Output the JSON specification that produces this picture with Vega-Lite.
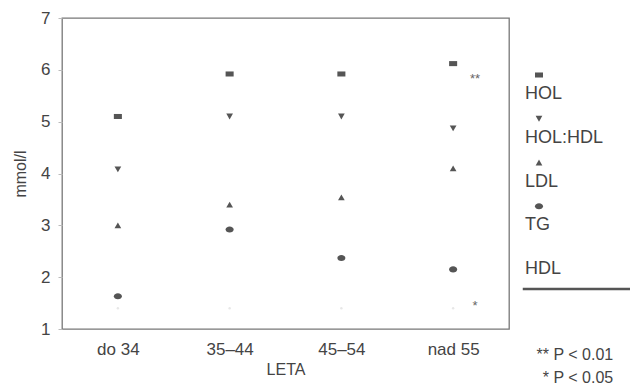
{
  "$schema": "https://vega.github.io/schema/vega-lite/v6.json",
  "padding": {"left": 11, "top": 8, "right": 0, "bottom": 0},
  "background": "white",
  "config": {
    "font": "Liberation Sans",
    "concat": {"spacing": 0},
    "axis": {"labelColor": "#444", "titleColor": "#444", "labelFontSize": 17, "titleFontSize": 16, "titleFontWeight": "normal", "grid": false}
  },
  "datasets": {
    "points": [
      {"age": "do 34", "series": "HOL", "value": 5.1},
      {"age": "do 34", "series": "HOL:HDL", "value": 4.08},
      {"age": "do 34", "series": "LDL", "value": 3.0},
      {"age": "do 34", "series": "TG", "value": 1.63},
      {"age": "do 34", "series": "HDL", "value": 1.4},
      {"age": "35–44", "series": "HOL", "value": 5.92},
      {"age": "35–44", "series": "HOL:HDL", "value": 5.1},
      {"age": "35–44", "series": "LDL", "value": 3.4},
      {"age": "35–44", "series": "TG", "value": 2.92},
      {"age": "35–44", "series": "HDL", "value": 1.4},
      {"age": "45–54", "series": "HOL", "value": 5.92},
      {"age": "45–54", "series": "HOL:HDL", "value": 5.1},
      {"age": "45–54", "series": "LDL", "value": 3.54},
      {"age": "45–54", "series": "TG", "value": 2.37},
      {"age": "45–54", "series": "HDL", "value": 1.4},
      {"age": "nad 55", "series": "HOL", "value": 6.12},
      {"age": "nad 55", "series": "HOL:HDL", "value": 4.87},
      {"age": "nad 55", "series": "LDL", "value": 4.1},
      {"age": "nad 55", "series": "TG", "value": 2.15},
      {"age": "nad 55", "series": "HDL", "value": 1.4}
    ],
    "notes": [
      {"age": "nad 55", "label": "**", "value": 5.83},
      {"age": "nad 55", "label": "*", "value": 1.44}
    ],
    "legend": [
      {"series": "HOL"},
      {"series": "HOL:HDL"},
      {"series": "LDL"},
      {"series": "TG"},
      {"series": "HDL"}
    ]
  },
  "hconcat": [
    {
      "width": 447,
      "height": 311,
      "view": {"stroke": "#777", "strokeWidth": 1.3},
      "encoding": {
        "x": {"field": "age", "type": "nominal", "sort": ["do 34", "35–44", "45–54", "nad 55"],
              "scale": {"type": "point", "padding": 0.5},
              "axis": {"title": "LETA", "labelAngle": 0, "ticks": false, "domain": false, "labelPadding": 12, "titlePadding": 4}},
        "y": {"field": "value", "type": "quantitative",
              "scale": {"domain": [1, 7], "nice": false, "zero": false},
              "axis": {"title": "mmol/l", "values": [1, 2, 3, 4, 5, 6, 7], "domain": false, "tickSize": 4, "tickColor": "#bbb", "labelPadding": 8, "titlePadding": 12}}
      },
      "layer": [
        {
          "data": {"name": "points"},
          "transform": [{"filter": "datum.series !== 'HDL'"}],
          "mark": {"type": "point", "filled": true, "opacity": 1, "color": "#555", "size": 45},
          "encoding": {
            "shape": {"field": "series", "type": "nominal",
                      "scale": {"domain": ["HOL", "HOL:HDL", "LDL", "TG"], "range": ["M-1.2,-0.75H1.2V0.75H-1.2Z", "triangle-down", "triangle-up", "M-1.2,0A1.2,0.9 0 1,0 1.2,0A1.2,0.9 0 1,0 -1.2,0Z"]},
                      "legend": null}
          }
        },
        {
          "data": {"name": "points"},
          "transform": [{"filter": "datum.series === 'HDL'"}],
          "mark": {"type": "point", "filled": true, "color": "#ddd", "size": 6, "shape": "circle"},
          "encoding": {}
        },
        {
          "data": {"name": "notes"},
          "mark": {"type": "text", "dx": 22, "fontSize": 13, "color": "#666"},
          "encoding": {"text": {"field": "label"}}
        }
      ]
    },
    {
      "width": 116,
      "height": 311,
      "view": {"stroke": null},
      "data": {"name": "legend"},
      "title": {"text": ["** P < 0.01", "* P < 0.05"], "orient": "bottom", "anchor": "end", "align": "right", "fontSize": 16, "fontWeight": "normal", "color": "#444", "offset": 18, "dx": -21, "lineHeight": 23},
      "encoding": {
        "y": {"field": "series", "type": "nominal", "sort": ["HOL", "HOL:HDL", "LDL", "TG", "HDL"],
              "scale": {"type": "point", "padding": 0, "range": [76, 251]}, "axis": null}
      },
      "layer": [
        {
          "transform": [{"filter": "datum.series !== 'HDL'"}],
          "mark": {"type": "point", "filled": true, "opacity": 1, "color": "#555", "size": 45, "yOffset": -19},
          "encoding": {
            "x": {"datum": 0.25, "type": "quantitative", "scale": {"domain": [0, 1]}, "axis": null},
            "shape": {"field": "series", "type": "nominal",
                      "scale": {"domain": ["HOL", "HOL:HDL", "LDL", "TG"], "range": ["M-1.2,-0.75H1.2V0.75H-1.2Z", "triangle-down", "triangle-up", "M-1.2,0A1.2,0.9 0 1,0 1.2,0A1.2,0.9 0 1,0 -1.2,0Z"]},
                      "legend": null}
          }
        },
        {
          "mark": {"type": "text", "align": "left", "baseline": "middle", "fontSize": 18, "color": "#444"},
          "encoding": {
            "x": {"datum": 0.13, "type": "quantitative", "scale": {"domain": [0, 1]}, "axis": null},
            "text": {"field": "series"}
          }
        },
        {
          "transform": [{"filter": "datum.series === 'HDL'"}],
          "mark": {"type": "rule", "color": "#555", "strokeWidth": 2.5, "yOffset": 20},
          "encoding": {
            "x": {"datum": 0.11, "type": "quantitative", "scale": {"domain": [0, 1]}, "axis": null},
            "x2": {"datum": 1.06}
          }
        }
      ]
    }
  ]
}
